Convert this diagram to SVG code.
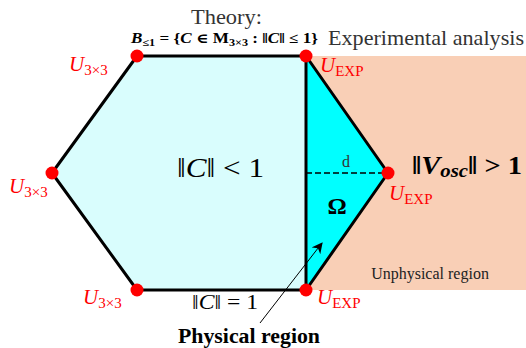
<svg xmlns="http://www.w3.org/2000/svg" width="526" height="348" viewBox="0 0 526 348">
<style>
.u{fill:#ff0000;font-size:21px;font-style:italic;}
.sub{font-size:15px;font-style:normal;}
.dot{fill:#ff0000;}
.edge{stroke:#000;stroke-width:3;fill:none;stroke-linejoin:round;}
</style>
<defs>
<marker id="ah" viewBox="0 0 10 10" refX="9" refY="5" markerWidth="11" markerHeight="11" markerUnits="userSpaceOnUse" orient="auto">
<path d="M0,0 L10,5 L0,10 L3,5 Z" fill="#000"/>
</marker>
</defs>
<rect id="unphysical" x="306" y="56" width="220" height="234" fill="#f9cfb6"/>
<g id="hexagon">
<polygon points="137,56 306,56 388,173 306,290 137,290 52,173" fill="#d9fdfd"/>
</g>
<g id="omega">
<polygon points="306,56 388,173 306,290" fill="#00ffff"/>
</g>
<g id="connectors">
<polygon class="edge" points="137,56 306,56 388,173 306,290 137,290 52,173"/>
<line x1="306" y1="56" x2="306" y2="290" stroke="#000" stroke-width="3"/>
<line x1="306" y1="173" x2="388" y2="173" stroke="#000" stroke-width="1.6" stroke-dasharray="6,3"/>
<line x1="260" y1="323" x2="322" y2="243" stroke="#000" stroke-width="1" marker-end="url(#ah)"/>
</g>
<g id="vertices">
<circle class="dot" cx="137" cy="56" r="6.5"/>
<circle class="dot" cx="306" cy="56" r="6.5"/>
<circle class="dot" cx="388" cy="173" r="6.5"/>
<circle class="dot" cx="306" cy="290" r="6.5"/>
<circle class="dot" cx="137" cy="290" r="6.5"/>
<circle class="dot" cx="52" cy="173" r="6.5"/>
</g>
<g id="labels" font-family="'Liberation Serif', 'DejaVu Serif', serif">
<text x="191" y="24" font-size="20" fill="#333" textLength="71" lengthAdjust="spacingAndGlyphs">Theory:</text>
<text x="131" y="43" font-size="14" font-weight="bold" textLength="187" lengthAdjust="spacingAndGlyphs"><tspan font-style="italic">B</tspan><tspan font-size="10" dy="3">≤1</tspan><tspan dy="-3"> = {</tspan><tspan font-style="italic">C</tspan> ∈ M<tspan font-size="10" dy="3">3×3</tspan><tspan dy="-3"> : ‖</tspan><tspan font-style="italic">C</tspan>‖ ≤ 1}</text>
<text x="328" y="45" font-size="21" fill="#333" textLength="196" lengthAdjust="spacingAndGlyphs">Experimental analysis</text>
<text class="u" x="69" y="71">U<tspan class="sub" dy="4">3×3</tspan></text>
<text class="u" x="9" y="193">U<tspan class="sub" dy="4">3×3</tspan></text>
<text class="u" x="83" y="304">U<tspan class="sub" dy="4">3×3</tspan></text>
<text class="u" x="320" y="72">U<tspan class="sub" dy="4">EXP</tspan></text>
<text class="u" x="389" y="200">U<tspan class="sub" dy="4">EXP</tspan></text>
<text class="u" x="317" y="304">U<tspan class="sub" dy="4">EXP</tspan></text>
<text x="177" y="177" font-size="28" textLength="87" lengthAdjust="spacingAndGlyphs">‖<tspan font-style="italic">C</tspan>‖ &lt; 1</text>
<text x="346" y="167" font-size="16" fill="#333" text-anchor="middle">d</text>
<text x="337" y="214" font-size="24" font-weight="bold" text-anchor="middle">Ω</text>
<text x="412" y="174" font-size="26" font-weight="bold" textLength="110" lengthAdjust="spacingAndGlyphs">‖<tspan font-style="italic">V</tspan><tspan font-style="italic" font-size="19" dy="3">osc</tspan><tspan dy="-3">‖ &gt; 1</tspan></text>
<text x="192" y="309" font-size="20" textLength="66" lengthAdjust="spacingAndGlyphs">‖<tspan font-style="italic">C</tspan>‖ = 1</text>
<text x="178" y="343" font-size="20" font-weight="bold" textLength="142" lengthAdjust="spacingAndGlyphs">Physical region</text>
<text x="430" y="279" font-size="16" fill="#222" text-anchor="middle">Unphysical region</text>
</g>
</svg>
